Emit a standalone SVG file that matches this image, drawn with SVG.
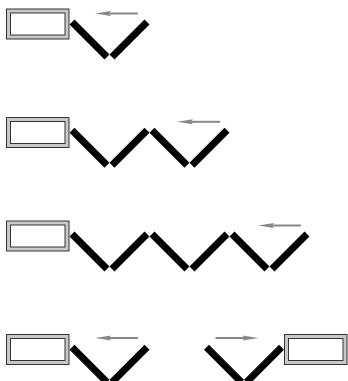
<svg xmlns="http://www.w3.org/2000/svg" width="348" height="381" viewBox="0 0 348 381">
<defs>
<style>
.outer{fill:#c8c8c8;stroke:#333;stroke-width:1}
.inner{fill:#fff;stroke:#333;stroke-width:1}
.arm{stroke:#000;stroke-width:7;stroke-linecap:butt;fill:none}
.arr{stroke:#888;stroke-width:2;fill:none}
.head{fill:#888;stroke:none}
</style>
<g id="box">
<rect class="outer" x="6.5" y="0.5" width="62.5" height="30"/>
<rect class="inner" x="10.5" y="4.5" width="54.5" height="22"/>
</g>
<g id="v">
<line class="arm" x1="72" y1="13" x2="107" y2="48"/>
<line class="arm" x1="112" y1="48" x2="147" y2="13"/>
</g>
<g id="la">
<line class="arr" x1="106" y1="4.5" x2="138" y2="4.5"/>
<polygon class="head" points="95,4.5 111,2 109,4.5 111,7"/>
</g>
</defs>
<g id="row1">
<g id="box1"><use href="#box" y="8.5"/></g>
<g id="v1a"><use href="#v" y="9"/></g>
</g>
<g id="row2">
<g id="box2"><use href="#box" y="117"/></g>
<g id="v2a"><use href="#v" y="117.3"/></g>
<g id="v2b"><use href="#v" x="80" y="117.3"/></g>
</g>
<g id="row3">
<g id="box3"><use href="#box" y="220.5"/></g>
<g id="v3a"><use href="#v" y="221"/></g>
<g id="v3b"><use href="#v" x="80" y="221"/></g>
<g id="v3c"><use href="#v" x="160" y="221"/></g>
</g>
<g id="row4">
<g id="box4"><use href="#box" y="334"/></g>
<g id="v4a"><use href="#v" y="334.3"/></g>
<g id="v4b"><use href="#v" transform="translate(353.5,334.3) scale(-1,1)"/></g>
<g id="box5"><use href="#box" transform="translate(353.5,334) scale(-1,1)"/></g>
</g>
<g id="connectors">
<use href="#la" y="9"/>
<use href="#la" x="82" y="117.3"/>
<use href="#la" x="163" y="221"/>
<use href="#la" y="333.5"/>
<use href="#la" transform="translate(353.5,333.5) scale(-1,1)"/>
</g>
</svg>
